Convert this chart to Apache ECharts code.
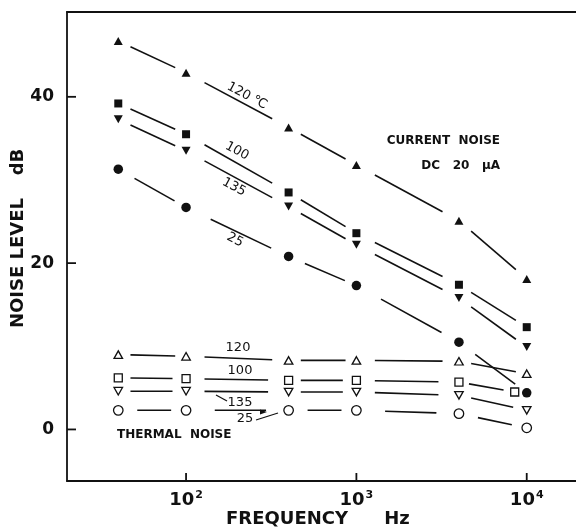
<!DOCTYPE html>
<html><head><meta charset="utf-8">
<script src="https://cdn.jsdelivr.net/npm/echarts@6/dist/echarts.min.js"></script>
<style>html,body{margin:0;padding:0;background:#fff}#c{width:576px;height:529px}</style>
</head><body><div id="c"></div>
<script>
// ---- data ----
const frequencies = [40, 100, 400, 1000, 4000, 10000];
const frequenciesThermal100 = [40, 100, 400, 1000, 4000, 8500];
const current120 = [46.7, 42.9, 36.3, 31.8, 25.1, 18.1];
const current100 = [39.2, 35.5, 28.5, 23.6, 17.4, 12.3];
const current135 = [37.3, 33.5, 26.8, 22.2, 15.8, 9.9];
const current25  = [31.3, 26.7, 20.8, 17.3, 10.5, 4.4];
const thermal120 = [9.0, 8.8, 8.3, 8.3, 8.2, 6.7];
const thermal100 = [6.2, 6.1, 5.9, 5.9, 5.7, 4.5];
const thermal135 = [4.6, 4.6, 4.5, 4.5, 4.1, 2.3];
const thermal25  = [2.3, 2.3, 2.3, 2.3, 1.9, 0.2];
const xTickValues = [100, 1000, 10000];
const yTickValues = [0, 20, 40];

const INK = '#111';
const FONT = 'DejaVu Sans';
const X_MIN = 20, X_MAX = 20000, Y_MIN = -6.2, Y_MAX = 50.2;

function pts(xs, ys) { return xs.map((x, i) => [x, ys[i]]); }
function segs(xs, ys) { return xs.slice(0, -1).map((x, i) => [x, ys[i], xs[i + 1], ys[i + 1]]); }

function markerSeries(xs, ys, symbol, size, open, rotate) {
  return {
    type: 'scatter', data: pts(xs, ys), symbol: symbol, symbolSize: size,
    symbolRotate: rotate || 0, z: 5, silent: true,
    itemStyle: open ? { color: '#fff', borderColor: INK, borderWidth: 1.3, opacity: 1 } : { color: INK, opacity: 1 },
    emphasis: { disabled: true }
  };
}
function segmentSeries(xs, ys, trimA, trimB) {
  return {
    type: 'custom', data: segs(xs, ys), silent: true, z: 3,
    encode: { x: [0, 2], y: [1, 3] },
    renderItem: function (params, api) {
      const p0 = api.coord([api.value(0), api.value(1)]);
      const p1 = api.coord([api.value(2), api.value(3)]);
      const dx = p1[0] - p0[0], dy = p1[1] - p0[1];
      return {
        type: 'line',
        shape: { x1: p0[0] + dx * trimA, y1: p0[1] + dy * trimA, x2: p1[0] - dx * trimB, y2: p1[1] - dy * trimB },
        style: { stroke: INK, lineWidth: 1.6 }
      };
    }
  };
}

const chart = echarts.init(document.getElementById('c'), null, { renderer: 'canvas' });
const rot = -0.49;
function txt(x, y, s, size, opts) {
  return Object.assign({
    type: 'text', x: x, y: y, z: 10,
    style: Object.assign({ text: s, fill: INK, font: (opts && opts.weight || 'normal') + ' ' + size + 'px "' + FONT + '"', align: 'center', verticalAlign: 'middle' }, opts && opts.style)
  }, opts && opts.el);
}
function seg(x1, y1, x2, y2, w) {
  return { type: 'line', z: 20, shape: { x1, y1, x2, y2 }, style: { stroke: INK, lineWidth: w || 1.2 } };
}

const annotations = [
  // axis titles
  txt(18, 263, 'NOISE LEVEL', 18, { weight: 'bold', el: { rotation: Math.PI / 2 } }),
  txt(18, 162, 'dB', 18, { weight: 'bold', el: { rotation: Math.PI / 2 } }),
  txt(287, 519, 'FREQUENCY', 18, { weight: 'bold' }),
  txt(397, 519, 'Hz', 18, { weight: 'bold' }),
  // in-plot annotations
  txt(500, 141, 'CURRENT  NOISE', 12, { weight: 'bold', style: { align: 'right' } }),
  txt(500, 166, 'DC   20   μA', 12, { weight: 'bold', style: { align: 'right' } }),
  txt(117, 435, 'THERMAL  NOISE', 12, { weight: 'bold', style: { align: 'left' } }),
  txt(247, 96, '120 ℃', 13, { el: { rotation: rot } }),
  txt(237, 151, '100', 13, { el: { rotation: rot } }),
  txt(234, 187, '135', 13, { el: { rotation: rot } }),
  txt(235, 240, '25', 13, { el: { rotation: rot } }),
  txt(238, 348, '120', 13),
  txt(240, 371, '100', 13),
  txt(240, 403, '135', 13),
  txt(245, 419, '25', 13),
  seg(216, 395, 227, 401),
  seg(256, 420, 278, 413),
  { type: 'polygon', z: 10, shape: { points: [[267, 412], [260, 409.5], [260, 414.5]] }, style: { fill: INK } }
];

chart.setOption({
  backgroundColor: '#fff',
  animation: false,
  grid: { left: 67, top: 12, width: 511, height: 469, show: false, outerBoundsMode: 'none' },
  xAxis: [{
    type: 'log', logBase: 10, min: X_MIN, max: X_MAX, position: 'bottom',
    axisLine: { show: true, onZero: false, lineStyle: { color: INK, width: 1.8 } },
    axisTick: { show: false },
    axisLabel: {
      showMinLabel: false, showMaxLabel: false,
      margin: 9, color: INK,
      formatter: function (v) {
        const e = Math.log10(v);
        if (Math.abs(e - Math.round(e)) > 1e-6) return '';
        return '{b|10}{s|' + Math.round(e) + '}';
      },
      rich: {
        b: { fontSize: 18, fontFamily: FONT, fontWeight: 'bold', color: INK, lineHeight: 20 },
        s: { fontSize: 11, fontFamily: FONT, fontWeight: 'bold', color: INK, verticalAlign: 'top', lineHeight: 20, padding: [0, 0, 0, 1] }
      }
    },
    splitLine: { show: false }, minorTick: { show: false }
  }, {
    type: 'value', position: 'top', min: 0, max: 1,
    axisLine: { show: true, onZero: false, lineStyle: { color: INK, width: 1.8 } },
    axisTick: { show: false }, axisLabel: { show: false }, splitLine: { show: false }
  }],
  yAxis: {
    type: 'value', min: Y_MIN, max: Y_MAX, splitNumber: 3,
    axisLine: { show: true, onZero: false, lineStyle: { color: INK, width: 1.8 } },
    axisTick: { show: false },
    axisLabel: {
      showMinLabel: false, showMaxLabel: false,
      formatter: function (v) { return yTickValues.indexOf(v) >= 0 ? String(v) : ''; },
      margin: 13, color: INK, fontSize: 17, fontWeight: 'bold', fontFamily: FONT
    },
    splitLine: { show: false }
  },
  series: [
    segmentSeries(frequencies, current120, 0.18, 0.16),
    segmentSeries(frequencies, current100, 0.18, 0.16),
    segmentSeries(frequencies, current135, 0.18, 0.16),
    segmentSeries(frequencies, current25, 0.24, 0.17),
    segmentSeries(frequencies, thermal120, 0.18, 0.16),
    segmentSeries(frequenciesThermal100, thermal100, 0.18, 0.2),
    segmentSeries(frequencies, thermal135, 0.18, 0.2),
    segmentSeries(frequencies, thermal25, 0.28, 0.22),
    markerSeries(frequencies, current120, 'triangle', [9, 8], false),
    markerSeries(frequencies, current100, 'rect', [8, 8], false),
    markerSeries(frequencies, current135, 'triangle', [9, 8], false, 180),
    markerSeries(frequencies, current25, 'circle', 9.5, false),
    markerSeries(frequencies, thermal120, 'triangle', [8.5, 7.5], true),
    markerSeries(frequenciesThermal100, thermal100, 'rect', [8, 8], true),
    markerSeries(frequencies, thermal135, 'triangle', [8.5, 7.5], true, 180),
    markerSeries(frequencies, thermal25, 'circle', 9.5, true)
  ],
  graphic: annotations
});

// inward tick marks, positioned through the axes' own scales
const ticks = [];
xTickValues.forEach(function (v) {
  const p = chart.convertToPixel({ gridIndex: 0 }, [v, Y_MIN]);
  if (p) ticks.push(seg(p[0], p[1], p[0], p[1] - 8, 1.8));
});
yTickValues.forEach(function (v) {
  const p = chart.convertToPixel({ gridIndex: 0 }, [X_MIN, v]);
  if (p) ticks.push(seg(p[0], p[1], p[0] + 9, p[1], 1.8));
});
chart.setOption({ graphic: annotations.concat(ticks) });
</script></body></html>
